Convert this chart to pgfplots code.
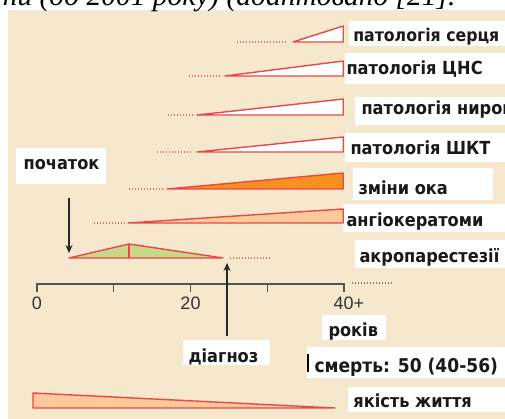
\documentclass[border=0pt]{standalone}
\usepackage{pgfplots}
\pgfplotsset{compat=1.18}
\usetikzlibrary{arrows.meta}
\usepackage{fontspec}
\setmainfont{DejaVu Sans}
\newfontfamily\lbl{DejaVu Sans Condensed}[BoldFont={DejaVu Sans Condensed Bold}]
\newfontfamily\tickf{Liberation Sans}
\newfontfamily\capf{Liberation Serif}

\definecolor{panel}{HTML}{F5E8CC}
\definecolor{edge}{HTML}{E8484A}
\definecolor{dots}{HTML}{E86A6A}
\definecolor{eye}{HTML}{F7901E}
\definecolor{peach}{HTML}{FBC99A}
\definecolor{acro}{HTML}{C8D88A}
\definecolor{tline}{HTML}{555555}

\begin{document}
\begin{tikzpicture}[
    tri/.style={draw=edge, line width=1.4pt, line join=round},
    dot/.style={draw=dots, line width=1.3pt, dash pattern=on 1.2pt off 1.8pt},
    lab/.style={anchor=base west, font=\lbl\bfseries\fontsize{18}{20}\selectfont, text=black!90},
]
\begin{axis}[
    hide axis, scale only axis, width=505pt, height=419pt,
    xmin=-4.821, xmax=60.977, ymin=0, ymax=419, y dir=reverse,
    clip=false, anchor=south west, at={(0,0)},
]
% panel and white label boxes
\fill[panel] (axis cs:-3.78,10) rectangle (axis cs:60.98,419);
\fill[white] (axis cs:40.6,21) rectangle (axis cs:60.98,46);
\fill[white] (axis cs:40.1,53) rectangle (axis cs:60.98,84);
\fill[white] (axis cs:41.43,97) rectangle (axis cs:60.98,125);
\fill[white] (axis cs:40.1,133) rectangle (axis cs:60.98,162);
\fill[white] (axis cs:41.17,168) rectangle (axis cs:59.4,200);
\fill[white] (axis cs:39.87,204) rectangle (axis cs:60.98,232);
\fill[white] (axis cs:41.43,240) rectangle (axis cs:60.98,268);
\fill[white] (axis cs:-2.74,148) rectangle (axis cs:8.99,184);
\fill[white] (axis cs:37.13,315) rectangle (axis cs:45.47,340);
\fill[white] (axis cs:35.18,347) rectangle (axis cs:60.98,378);
\fill[white] (axis cs:40.52,387) rectangle (axis cs:60.98,412);
\fill[white] (axis cs:19.02,340) rectangle (axis cs:30.36,365);

% dotted lead-ins (years before onset)
\addplot[dot] coordinates {(26.06,42) (32.57,42)};
\addplot[dot] coordinates {(19.80,76) (23.84,76)};
\addplot[dot] coordinates {(17.07,115) (20.33,115)};
\addplot[dot] coordinates {(15.64,152) (20.33,152)};
\addplot[dot] coordinates {(11.99,189) (16.42,189)};
\addplot[dot] coordinates {(7.43,223) (11.47,223)};
\addplot[dot] coordinates {(25.15,258) (30.36,258)};

% onset wedges
\addplot[tri, fill=white] coordinates {(33.36,42) (39.9,42) (39.9,26)} -- cycle;
\addplot[tri, fill=white] coordinates {(24.50,76) (39.9,76) (39.9,61)} -- cycle;
\addplot[tri, fill=white] coordinates {(20.85,115) (39.9,115) (39.9,99)} -- cycle;
\addplot[tri, fill=white] coordinates {(20.85,152) (39.9,152) (39.9,137)} -- cycle;
\addplot[tri, fill=eye] coordinates {(16.94,189) (39.9,189) (39.9,173)} -- cycle;
\addplot[tri, fill=peach] coordinates {(11.86,223) (39.9,223) (39.9,209)} -- cycle;
\addplot[tri, fill=acro] coordinates {(4.17,258) (11.99,244) (24.23,258)} -- cycle;
\addplot[tri] coordinates {(11.99,244) (11.99,258)};
\addplot[tri, fill=peach] coordinates {(-0.52,393) (-0.52,408) (38.83,408)} -- cycle;

% time line
\addplot[tline, line width=1.3pt] coordinates {(0,292) (0,284) (40,284) (40,292)};
\addplot[tline, line width=1.3pt] coordinates {(10,284) (10,292)};
\addplot[tline, line width=1.3pt] coordinates {(20,284) (20,292)};
\addplot[tline, line width=1.3pt] coordinates {(30,284) (30,292)};
\addplot[tline!80, line width=1.1pt, dash pattern=on 1.2pt off 1.8pt] coordinates {(41.04,283) (46.25,283)};
\node[font=\tickf\fontsize{18}{20}\selectfont, text=black!80] at (axis cs:0,303.5) {0};
\node[font=\tickf\fontsize{18}{20}\selectfont, text=black!80] at (axis cs:20,303.5) {20};
\node[anchor=west, font=\tickf\fontsize{18}{20}\selectfont, text=black!80] at (axis cs:38.2,303.5) {40+};

% arrows
\draw[-{Stealth[length=8pt,width=7pt]}, line width=1.8pt, black!85] (axis cs:4.17,198) -- (axis cs:4.17,253);
\draw[-{Stealth[length=8pt,width=7pt]}, line width=1.8pt, black!85] (axis cs:24.76,336) -- (axis cs:24.76,263);

% labels
\node[lab, font=\lbl\bfseries\fontsize{17.5}{20}\selectfont] at (axis cs:40.75,42) {патологія серця};
\node[lab] at (axis cs:39.87,75) {патологія ЦНС};
\node[lab] at (axis cs:41.82,115) {патологія нирок};
\node[lab] at (axis cs:40.39,155) {патологія ШКТ};
\node[lab] at (axis cs:41.43,195) {зміни ока};
\node[lab] at (axis cs:39.87,227) {ангіокератоми};
\node[lab] at (axis cs:41.56,262) {акропарестезії};
\node[lab] at (axis cs:-2.21,170) {початок};
\node[lab] at (axis cs:37.52,336) {років};
\node[lab] at (axis cs:19.28,362) {діагноз};
\node[lab] at (axis cs:40.77,407) {якість життя};
\node[lab, font=\lbl\bfseries\fontsize{19}{22}\selectfont] at (axis cs:35.7,372) {смерть: 50 (40-56)};
\draw[line width=1.2pt] (axis cs:35.3,354) -- (axis cs:35.3,372);

% caption cut at top
\node[anchor=base west, font=\capf\itshape\fontsize{29.5}{32}\selectfont] at (axis cs:-4.9,6) {ни (до 2001 року) (адаптовано [21].};
\end{axis}
\pgfresetboundingbox
\path[use as bounding box] (0,0) rectangle (505pt,419pt);
\end{tikzpicture}
\end{document}
